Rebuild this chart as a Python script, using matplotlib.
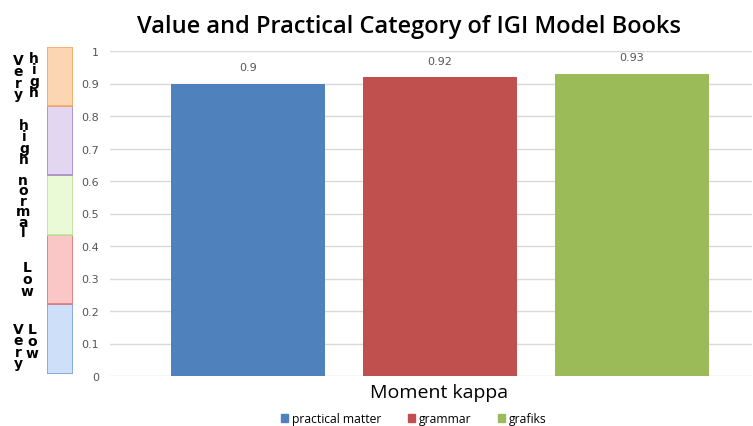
import numpy as np
import matplotlib.pyplot as plt
from matplotlib.patches import Patch

### data
series = ['practical matter', 'grammar', 'grafiks']
values = [0.90, 0.92, 0.93]
value_labels = ['0.9', '0.92', '0.93']
bar_colors = ['#4f81bd', '#c0504d', '#9bbb59']

yticks = [0, 0.1, 0.2, 0.3, 0.4, 0.5, 0.6, 0.7, 0.8, 0.9, 1]
ytick_labels = ['0', '0.1', '0.2', '0.3', '0.4', '0.5', '0.6', '0.7', '0.8', '0.9', '1']

# category bands on the left (lower, upper)
band_lower = [0.0, 0.215, 0.43, 0.615, 0.828]
band_upper = [0.215, 0.43, 0.615, 0.828, 1.01]
band_fill = ['#cddff9', '#fbc6c6', '#eafad6', '#e2d6f0', '#fcd5b3']
band_edge = ['#7aa2db', '#e07777', '#bfe39a', '#a78bc8', '#f3a866']

W, H = 753, 427
fig = plt.figure(figsize=(W/100, H/100), dpi=100)

def fx(x):
    return x / W

def fy(y):
    return 1 - y / H

### main bars
ax = fig.add_axes([fx(110), fy(377), fx(752) - fx(110), fy(52) - fy(377)])
pos = np.arange(len(series))
for p, v, c, lab in zip(pos, values, bar_colors, value_labels):
    ax.bar(p, v, width=0.8, color=c, zorder=3)
    ax.text(p, v + 0.035, lab, ha='center', va='bottom', fontsize=8, color='#555555')

ax.set_ylim(0, 1)
ax.set_xlim(-0.719, 2.625)
ax.set_yticks(yticks)
ax.set_yticklabels(ytick_labels, fontsize=8, color='#555555')
ax.set_xticks([])
ax.tick_params(axis='y', length=0, pad=8)
ax.grid(axis='y', color='#d9d9d9', linewidth=1, zorder=0)
for s in ax.spines.values():
    s.set_visible(False)

### category band
bx = fig.add_axes([fx(47), fy(375), fx(73) - fx(47), fy(48) - fy(375)])
for lo, hi, fc, ec in zip(band_lower, band_upper, band_fill, band_edge):
    bx.bar(0, hi - lo, bottom=lo, width=1, color=fc, edgecolor=ec, linewidth=1.2)
bx.set_xlim(-0.5, 0.5)
bx.set_ylim(0, 1.01)
bx.axis('off')

def vtext(x, y, word, ls=0.78):
    fig.text(fx(x), fy(y), '\n'.join(word), ha='center', va='center',
             fontsize=10, fontweight='bold', linespacing=ls, family='DejaVu Sans')

vtext(18, 78, 'Very')
vtext(34, 76, 'high')
vtext(24, 143, 'high')
vtext(23, 207, 'normal', ls=0.68)
vtext(27, 280, 'Low')
vtext(18, 347, 'Very')
vtext(32, 342, 'Low')

### title, axis label, legend
fig.text(fx(409), fy(27), 'Value and Practical Category of IGI Model Books',
         ha='center', va='center', fontsize=17, fontweight='semibold', family='Open Sans')
fig.text(fx(439), fy(393), 'Moment kappa', ha='center', va='center',
         fontsize=14, family='Open Sans')

handles = [Patch(color=c, label=s) for c, s in zip(bar_colors, series)]
fig.legend(handles=handles, loc='center', bbox_to_anchor=(fx(414), fy(420)), ncol=3,
           frameon=False, handlelength=0.6, handleheight=0.6,
           handletextpad=0.3, columnspacing=2.2, prop={'family': 'Open Sans', 'size': 8.7})

plt.savefig('out.png', dpi=100)
plt.close()
